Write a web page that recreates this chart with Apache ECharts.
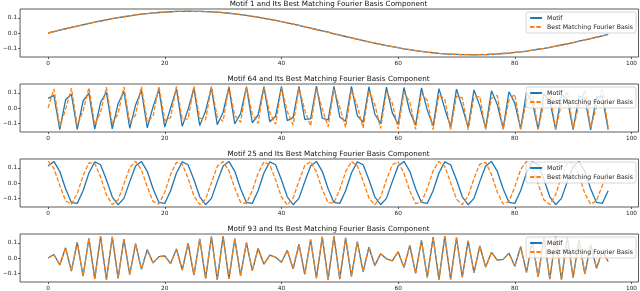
<!DOCTYPE html>
<html><head><meta charset="utf-8">
<script src="https://cdn.jsdelivr.net/npm/echarts@6/dist/echarts.min.js"></script>
<style>html,body{margin:0;padding:0;background:#fff}#c{width:640px;height:291px}</style>
</head><body><div id="c"></div>
<script>
const titles = [
  'Motif 1 and Its Best Matching Fourier Basis Component',
  'Motif 64 and Its Best Matching Fourier Basis Component',
  'Motif 25 and Its Best Matching Fourier Basis Component',
  'Motif 93 and Its Best Matching Fourier Basis Component'
];
const legendNames = ['Motif', 'Best Matching Fourier Basis'];
const xTicks = [0, 20, 40, 60, 80, 100];
const yTicks = [-0.1, 0, 0.1];

const motif1 = [0, .009, .019, .028, .037, .046, .054, .063, .071, .079,
 .087, .094, .101, .107, .113, .119, .124, .128, .132, .135,
 .138, .140, .142, .143, .144, .143, .143, .141, .139, .137,
 .134, .130, .126, .121, .116, .110, .104, .097, .090, .083,
 .075, .067, .059, .050, .041, .032, .023, .014, .005, -.005,
 -.014, -.023, -.032, -.041, -.050, -.059, -.067, -.075, -.083, -.090,
 -.097, -.104, -.110, -.116, -.121, -.126, -.130, -.134, -.137, -.139,
 -.141, -.143, -.143, -.144, -.143, -.142, -.140, -.138, -.135, -.132,
 -.128, -.124, -.119, -.113, -.107, -.101, -.094, -.087, -.079, -.071,
 -.063, -.054, -.046, -.037, -.028, -.019, -.009];
const basis1 = [0, .009, .019, .028, .037, .046, .054, .063, .071, .079,
 .087, .094, .101, .107, .113, .119, .124, .128, .132, .135,
 .138, .140, .142, .143, .144, .143, .143, .141, .139, .137,
 .134, .130, .126, .121, .116, .110, .104, .097, .090, .083,
 .075, .067, .059, .050, .041, .032, .023, .014, .005, -.005,
 -.014, -.023, -.032, -.041, -.050, -.059, -.067, -.075, -.083, -.090,
 -.097, -.104, -.110, -.116, -.121, -.126, -.130, -.134, -.137, -.139,
 -.141, -.143, -.143, -.144, -.143, -.142, -.140, -.138, -.135, -.132,
 -.128, -.124, -.119, -.113, -.107, -.101, -.094, -.087, -.079, -.071,
 -.063, -.054, -.046, -.037, -.028, -.019, -.009];

const motif64 = [.063, .083, -.143, .054, .090, -.141, .046, .097, -.139, .037,
 .104, -.137, .028, .110, -.134, .019, .116, -.130, .009, .121,
 -.126, 0, .126, -.121, -.009, .130, -.116, -.019, .134, -.110,
 -.028, .137, -.104, -.037, .139, -.097, -.046, .141, -.090, -.054,
 .143, -.083, -.063, .143, -.075, -.071, .144, -.067, -.079, .143,
 -.059, -.087, .142, -.050, -.094, .140, -.041, -.101, .138, -.032,
 -.107, .135, -.023, -.113, .132, -.014, -.119, .128, -.005, -.124,
 .124, .005, -.128, .119, .014, -.132, .113, .023, -.135, .107,
 .032, -.138, .101, .041, -.140, .094, .050, -.142, .087, .059,
 -.143, .079, .067, -.144, .071, .075, -.143];
const basis64 = [0, .126, -.121, -.009, .130, -.116, -.019, .134, -.110, -.028,
 .137, -.104, -.037, .139, -.097, -.046, .141, -.090, -.054, .143,
 -.083, -.063, .143, -.075, -.071, .144, -.067, -.079, .143, -.059,
 -.087, .142, -.050, -.094, .140, -.041, -.101, .138, -.032, -.107,
 .135, -.023, -.113, .132, -.014, -.119, .128, -.005, -.124, .124,
 .005, -.128, .119, .014, -.132, .113, .023, -.135, .107, .032,
 -.138, .101, .041, -.140, .094, .050, -.142, .087, .059, -.143,
 .079, .067, -.144, .071, .075, -.143, .063, .083, -.143, .054,
 .090, -.141, .046, .097, -.139, .037, .104, -.137, .028, .110,
 -.134, .019, .116, -.130, .009, .121, -.126];

const motif25 = [.112, .142, .077, -.038, -.128, -.134, -.051, .066, .139, .120, .021, -.091, -.143, -.101, .009,
 .112, .142, .077, -.038, -.128, -.134, -.051, .066, .139, .120, .021, -.091, -.143, -.101, .009,
 .112, .142, .077, -.038, -.128, -.134, -.051, .066, .139, .120, .021, -.091, -.143, -.101, .009,
 .112, .142, .077, -.038, -.128, -.134, -.051, .066, .139, .120, .021, -.091, -.143, -.101, .009,
 .112, .142, .077, -.038, -.128, -.134, -.051, .066, .139, .120, .021, -.091, -.143, -.101, .009,
 .112, .142, .077, -.038, -.128, -.134, -.051, .066, .139, .120, .021, -.091, -.143, -.101, .009,
 .112, .142, .077, -.038, -.128, -.134, -.051];
const basis25 = [.144, .096, -.016, -.117, -.140, -.069, .048, .133, .129, .039,
 -.077, -.142, -.112, -.007, .102, .143, .088, -.025, -.122, -.138,
 -.061, .057, .136, .125, .030, -.085, -.143, -.106, .002, .109,
 .142, .081, -.035, -.127, -.135, -.052, .065, .139, .120, .021,
 -.092, -.144, -.099, .012, .115, .141, .073, -.043, -.131, -.131,
 -.043, .073, .141, .115, .012, -.099, -.144, -.092, .021, .120,
 .139, .065, -.052, -.135, -.127, -.035, .081, .142, .109, .002,
 -.106, -.143, -.085, .030, .125, .136, .057, -.061, -.138, -.122,
 -.025, .088, .143, .102, -.007, -.112, -.142, -.077, .039, .129,
 .133, .048, -.069, -.140, -.117, -.016, .096];

const motif93 = [0, .023, -.046, .067, -.087, .104, -.119, .130, -.138, .143,
 -.143, .140, -.134, .124, -.110, .094, -.075, .054, -.032, .009,
 .014, -.037, .059, -.079, .097, -.113, .126, -.135, .141, -.144,
 .142, -.137, .128, -.116, .101, -.083, .063, -.041, .019, .005,
 -.028, .050, -.071, .090, -.107, .121, -.132, .139, -.143, .143,
 -.139, .132, -.121, .107, -.090, .071, -.050, .028, -.005, -.019,
 .041, -.063, .083, -.101, .116, -.128, .137, -.142, .144, -.141,
 .135, -.126, .113, -.097, .079, -.059, .037, -.014, -.009, .032,
 -.054, .075, -.094, .110, -.124, .134, -.140, .143, -.143, .138,
 -.130, .119, -.104, .087, -.067, .046, -.023];
const basis93 = [0, .023, -.046, .067, -.087, .104, -.119, .130, -.138, .143,
 -.143, .140, -.134, .124, -.110, .094, -.075, .054, -.032, .009,
 .014, -.037, .059, -.079, .097, -.113, .126, -.135, .141, -.144,
 .142, -.137, .128, -.116, .101, -.083, .063, -.041, .019, .005,
 -.028, .050, -.071, .090, -.107, .121, -.132, .139, -.143, .143,
 -.139, .132, -.121, .107, -.090, .071, -.050, .028, -.005, -.019,
 .041, -.063, .083, -.101, .116, -.128, .137, -.142, .144, -.141,
 .135, -.126, .113, -.097, .079, -.059, .037, -.014, -.009, .032,
 -.054, .075, -.094, .110, -.124, .134, -.140, .143, -.143, .138,
 -.130, .119, -.104, .087, -.067, .046, -.023];

const motifs = [motif1, motif64, motif25, motif93];
const bases = [basis1, basis64, basis25, basis93];

const gridTops = [9, 84, 159, 234];
const H = 48;
const FONT = 'DejaVu Sans';
const BLUE = '#1f77b4', ORANGE = '#ff7f0e';

const chart = echarts.init(document.getElementById('c'), null, {renderer: 'canvas'});
const grids = [], xAxes = [], yAxes = [], series = [], legends = [], graphics = [];
for (let i = 0; i < 4; i++) {
  grids.push({left: 18, right: 1, top: gridTops[i], height: H, show: true,
    borderColor: '#333', borderWidth: 0.8, backgroundColor: 'transparent'});
  xAxes.push({type: 'value', gridIndex: i, min: -4.8, max: 101.2,
    splitLine: {show: false}, axisLine: {show: false, onZero: false},
    axisTick: {show: true, length: 2, lineStyle: {color: '#333', width: 0.8}, customValues: xTicks},
    axisLabel: {customValues: xTicks, fontFamily: FONT, fontSize: 5.8, color: '#222', margin: 3}});
  yAxes.push({type: 'value', gridIndex: i, min: -0.158, max: 0.158,
    splitLine: {show: false}, axisLine: {show: false, onZero: false},
    axisTick: {show: true, length: 2, lineStyle: {color: '#333', width: 0.8}, customValues: yTicks},
    axisLabel: {customValues: yTicks, fontFamily: FONT, fontSize: 5.8, color: '#222', margin: 3,
      formatter: v => (v < -1e-9 ? '\u2212' : '') + Math.abs(v).toFixed(1)}});
  series.push({type: 'line', name: legendNames[0], xAxisIndex: i, yAxisIndex: i,
    data: motifs[i].map((v, k) => [k, v]), symbol: 'none', showSymbol: false, silent: true, z: 2,
    lineStyle: {color: BLUE, width: 1.3}, itemStyle: {color: BLUE}});
  series.push({type: 'line', name: legendNames[1], xAxisIndex: i, yAxisIndex: i,
    data: bases[i].map((v, k) => [k, v]), symbol: 'none', showSymbol: false, silent: true, z: 3,
    lineStyle: {color: ORANGE, width: 1.3, type: [4.4, 1.9]}, itemStyle: {color: ORANGE}});
  legends.push({orient: 'vertical', right: 4, top: gridTops[i] + 3, data: legendNames,
    itemWidth: 12, itemHeight: 7, itemGap: 3, padding: [3, 3, 3, 3], selectedMode: false,
    itemStyle: {opacity: 0},
    backgroundColor: 'rgba(255,255,255,0.8)', borderColor: '#cccccc', borderWidth: 0.8, borderRadius: 2,
    textStyle: {fontFamily: FONT, fontSize: 6.2, color: '#222'}});
  graphics.push({type: 'text', x: 328.5, y: gridTops[i] - 5, z: 10,
    style: {text: titles[i], font: '7.2px "DejaVu Sans"', fill: '#111', align: 'center', verticalAlign: 'middle'}});
}
chart.setOption({animation: false, backgroundColor: '#fff', grid: grids, xAxis: xAxes, yAxis: yAxes,
  series: series, legend: legends, graphic: graphics});
</script></body></html>
